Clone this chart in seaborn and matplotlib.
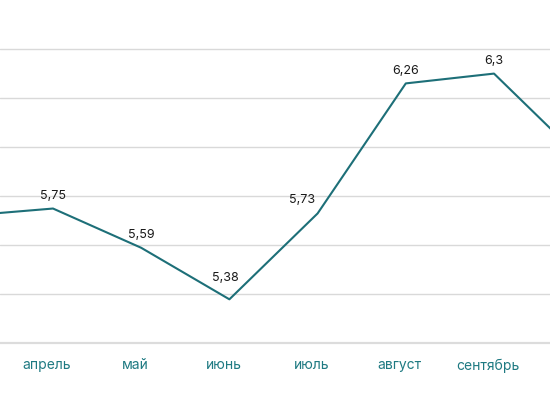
import matplotlib
matplotlib.use("Agg")
import matplotlib.pyplot as plt
import matplotlib.transforms as mtransforms
import seaborn as sns
import pandas as pd

months = ["март", "апрель", "май", "июнь", "июль", "август", "сентябрь", "октябрь"]
values = [5.72, 5.75, 5.59, 5.38, 5.73, 6.26, 6.30, 5.95]
labels = ["5,72", "5,75", "5,59", "5,38", "5,73", "6,26", "6,3", "5,95"]
shown_months = ["апрель", "май", "июнь", "июль", "август", "сентябрь"]

df = pd.DataFrame({"idx": range(len(months)), "value": values})

sns.set_theme(style="white")
plt.rcParams["font.family"] = ["Inter", "DejaVu Sans"]

fig = plt.figure(figsize=(5.5, 4.1), dpi=100)
ax = fig.add_axes([0, 0.1598, 1, 0.8402])

sns.lineplot(data=df, x="idx", y="value", ax=ax, color="#1d6f78", linewidth=1.5)

# label offsets in points (dx, dy)
offsets = {"июнь": (-3, 11.5), "июль": (-11, 6)}
for i, (m, v, lab) in enumerate(zip(months, values, labels)):
    dx, dy = offsets.get(m, (0, 5.5))
    ax.annotate(lab, (i, v), xytext=(dx, dy), textcoords="offset points",
                ha="center", va="bottom", fontsize=9, color="#1a1a1a",
                annotation_clip=True)

ax.set_yticks([5.2, 5.4, 5.6, 5.8, 6.0, 6.2, 6.4])
ax.set_yticklabels([])
ax.set_xticks([months.index(m) for m in shown_months])
ax.set_xticklabels(shown_months, fontsize=10, color="#1f7a82")
ax.set_xlim(0.399, 6.635)
ax.set_ylim(5.2, 6.604)
ax.tick_params(axis="x", length=0, pad=10)
ax.tick_params(axis="y", length=0)
shift = mtransforms.ScaledTranslation(-6 / 100, 0, fig.dpi_scale_trans)
for t in ax.get_xticklabels():
    t.set_transform(t.get_transform() + shift)
ax.grid(axis="y", color="#d9d9d9", linewidth=1)
ax.grid(axis="x", visible=False)
for s in ["top", "left", "right"]:
    ax.spines[s].set_visible(False)
ax.spines["bottom"].set_color("#dcdcdc")
ax.spines["bottom"].set_linewidth(1.6)
ax.set_xlabel("")
ax.set_ylabel("")

fig.savefig("out.png", dpi=100)
